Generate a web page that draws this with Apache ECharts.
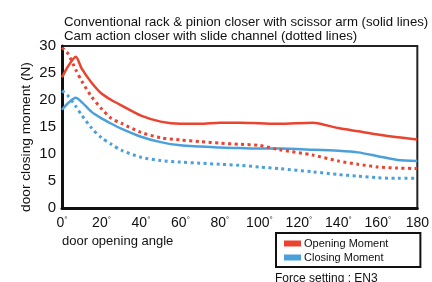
<!DOCTYPE html>
<html><head><meta charset="utf-8">
<script src="https://cdn.jsdelivr.net/npm/echarts@6/dist/echarts.min.js"></script>
<style>html,body{margin:0;padding:0;background:#fff}#c{width:432px;height:282px}</style>
</head><body><div id="c"></div>
<script>
const angles = [0, 3, 7, 10, 15, 20, 25, 30, 40, 50, 60, 70, 80, 90, 100, 110, 127, 140, 150, 160, 170, 180];
const openingRackPinion = [24.2, 26.2, 28.0, 25.8, 23.2, 21.2, 20.0, 19.0, 17.1, 16.0, 15.6, 15.6, 15.8, 15.8, 15.7, 15.6, 15.8, 14.8, 14.2, 13.6, 13.1, 12.7];
const closingRackPinion = [18.2, 19.4, 20.4, 19.6, 17.8, 16.6, 15.6, 14.7, 13.2, 12.2, 11.6, 11.4, 11.2, 11.1, 11.0, 11.0, 10.8, 10.6, 10.3, 9.6, 8.9, 8.7];
const openingCam = [29.7, 28.6, 25.6, 23.5, 20.6, 18.4, 16.6, 15.7, 14.0, 13.0, 12.6, 12.3, 12.0, 11.8, 11.6, 10.8, 9.8, 8.7, 8.1, 7.6, 7.4, 7.3];
const closingCam = [21.7, 20.8, 18.8, 17.2, 14.8, 13.0, 11.8, 10.7, 9.4, 8.8, 8.5, 8.3, 8.1, 7.9, 7.6, 7.3, 6.7, 6.2, 5.9, 5.6, 5.5, 5.5];
const xTickNumbers = ['0','20','40','60','80','100','120','140','160','180'];
const xTickDegree = ['°','°','°','°','°','°','°','°','°',''];
const yTicks = [0, 5, 10, 15, 20, 25, 30];
const titleLines = ['Conventional rack & pinion closer with scissor arm (solid lines)', 'Cam action closer with slide channel (dotted lines)'];
const seriesNames = ['Opening Moment', 'Closing Moment'];
const yAxisTitle = 'door closing moment (N)';
const xAxisTitle = 'door opening angle';
const footNote = 'Force setting : EN3';

const RED = '#ea4330', BLUE = '#4ba0dc';
const pairs = arr => angles.map((a, i) => [a, arr[i]]);
const font = 'Liberation Sans, Arial, sans-serif';

const chart = echarts.init(document.getElementById('c'), null, {renderer: 'canvas'});
chart.setOption({
  animation: false,
  title: {
    text: titleLines.join('\n'), left: 59, top: 10,
    textStyle: {fontFamily: font, fontSize: 13.2, fontWeight: 'normal', color: '#111', lineHeight: 14.5}
  },
  grid: {left: 62, right: 14, top: 46, bottom: 74, show: true, borderColor: '#222', borderWidth: 2, backgroundColor: 'transparent'},
  xAxis: {
    type: 'value', min: 0, max: 180, interval: 20,
    axisLine: {show: true, lineStyle: {color: '#111', width: 3}},
    axisTick: {show: false}, splitLine: {show: false},
    axisLabel: {margin: 8, fontFamily: font, fontSize: 14, color: '#111',
      formatter: v => { const i = Math.round(v / 20); return '{n|' + xTickNumbers[i] + '}{d|' + xTickDegree[i] + '}'; },
      rich: {n: {fontFamily: font, fontSize: 14, color: '#111'}, d: {fontFamily: font, fontSize: 8, color: '#111', verticalAlign: 'top', padding: [0, 0, 6, 0]}}},
    name: xAxisTitle, nameLocation: 'start', nameGap: 0,
    nameTextStyle: {fontFamily: font, fontSize: 13, color: '#111', align: 'left', verticalAlign: 'top', padding: [27, 0, 0, 0]}
  },
  yAxis: {
    type: 'value', min: 0, max: 30, interval: 5,
    axisLine: {show: true, lineStyle: {color: '#111', width: 3}},
    axisTick: {show: false}, splitLine: {show: false},
    axisLabel: {margin: 6, fontFamily: font, fontSize: 15, color: '#111',
      formatter: v => yTicks.includes(v) ? String(v) : ''}
  },
  legend: {
    data: seriesNames, orient: 'vertical', left: 276, top: 233,
    itemWidth: 17, itemHeight: 6, itemGap: 3, icon: 'rect',
    borderColor: '#111', borderWidth: 2, padding: [5, 32, 4, 8],
    textStyle: {fontFamily: font, fontSize: 11, color: '#111', padding: [0, 0, 0, -2]}
  },
  graphic: [
    {type: 'text', left: 275, top: 273,
      style: {text: footNote, font: '12px Liberation Sans, Arial, sans-serif', fill: '#111'}},
    {type: 'text', x: 26, y: 137, rotation: Math.PI / 2,
      style: {text: yAxisTitle, font: '13.7px Liberation Sans, Arial, sans-serif', fill: '#111', align: 'center', verticalAlign: 'middle'}}
  ],
  series: [
    {name: seriesNames[0], type: 'line', data: pairs(openingRackPinion), smooth: 0.25, symbol: 'none', lineStyle: {color: RED, width: 2.5}, itemStyle: {color: RED}},
    {name: seriesNames[1], type: 'line', data: pairs(closingRackPinion), smooth: 0.25, symbol: 'none', lineStyle: {color: BLUE, width: 2.5}, itemStyle: {color: BLUE}},
    {name: seriesNames[0], type: 'line', data: pairs(openingCam), smooth: 0.25, symbol: 'none', lineStyle: {color: RED, width: 3, type: [3, 3.5]}, itemStyle: {color: RED}},
    {name: seriesNames[1], type: 'line', data: pairs(closingCam), smooth: 0.25, symbol: 'none', lineStyle: {color: BLUE, width: 3, type: [3, 3.5]}, itemStyle: {color: BLUE}}
  ]
});
</script></body></html>
